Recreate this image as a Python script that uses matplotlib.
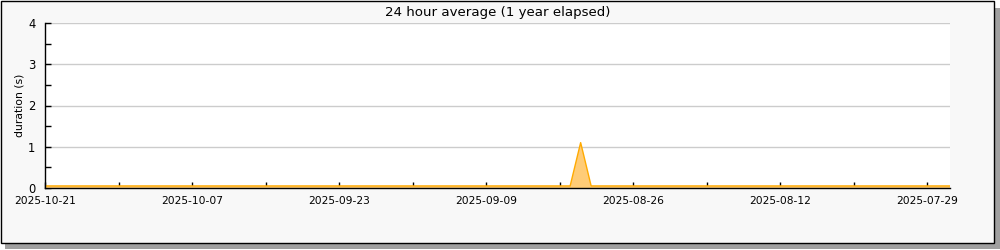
import numpy as np
import pandas as pd
import matplotlib.pyplot as plt
import matplotlib.dates as mdates
from matplotlib.patches import Rectangle

# vertices of the area (daily average, flat except one spike)
dates = pd.to_datetime(['2025-07-26', '2025-08-30', '2025-08-31', '2025-09-01', '2025-10-21'])
duration = [0.05, 0.05, 1.1, 0.05, 0.05]

tick_labels = ['2025-10-21', '2025-10-07', '2025-09-23', '2025-09-09',
               '2025-08-26', '2025-08-12', '2025-07-29']
minor_ticks = ['2025-10-14', '2025-09-30', '2025-09-16', '2025-09-02',
               '2025-08-19', '2025-08-05']

fs = 7.7

fig = plt.figure(figsize=(10, 2.5), dpi=100)
fig.patch.set_facecolor('white')

# framed panel with a drop shadow
fig.patches.append(Rectangle((0.005, 0.004), 0.995, 0.964, transform=fig.transFigure,
                             facecolor='#a0a0a0', edgecolor='none', zorder=-2))
fig.patches.append(Rectangle((0.0005, 0.028), 0.9935, 0.970, transform=fig.transFigure,
                             facecolor='#f8f8f8', edgecolor='black', linewidth=1, zorder=-1))

ax = fig.add_axes([0.045, 0.248, 0.905, 0.66])
ax.set_facecolor('white')

ax.fill_between(dates, duration, 0, facecolor='#ffcc77', edgecolor='none', zorder=2)
ax.plot(dates, duration, color='#ffaa00', linewidth=1, zorder=3)

ax.set_xlim(pd.Timestamp('2025-10-21'), pd.Timestamp('2025-07-26 20:00'))
ax.set_ylim(0, 4)

ax.set_xticks(mdates.date2num(pd.to_datetime(tick_labels)))
ax.set_xticklabels(tick_labels, fontsize=fs)
ax.set_xticks(mdates.date2num(pd.to_datetime(minor_ticks)), minor=True)

ax.set_yticks([0, 1, 2, 3, 4])
ax.set_yticklabels(['0', '1', '2', '3', '4'], fontsize=8.3)
ax.set_yticks([0.5, 1.5, 2.5, 3.5], minor=True)

ax.tick_params(which='both', direction='in', length=4, width=1, color='black')
ax.tick_params(axis='x', pad=5.5)
ax.tick_params(axis='y', pad=7)
ax.grid(axis='y', which='major', color='#cccccc', linewidth=1, zorder=0)
ax.set_axisbelow(True)

for side in ['top', 'right']:
    ax.spines[side].set_visible(False)
for side in ['left', 'bottom']:
    ax.spines[side].set_linewidth(1)
    ax.spines[side].set_zorder(5)

ax.set_ylabel('duration (s)', fontsize=7.8)
ax.yaxis.set_label_coords(-0.023, 0.5)
ax.set_title('24 hour average (1 year elapsed)', fontsize=9.6, pad=5)

fig.savefig('out.png', dpi=100)
